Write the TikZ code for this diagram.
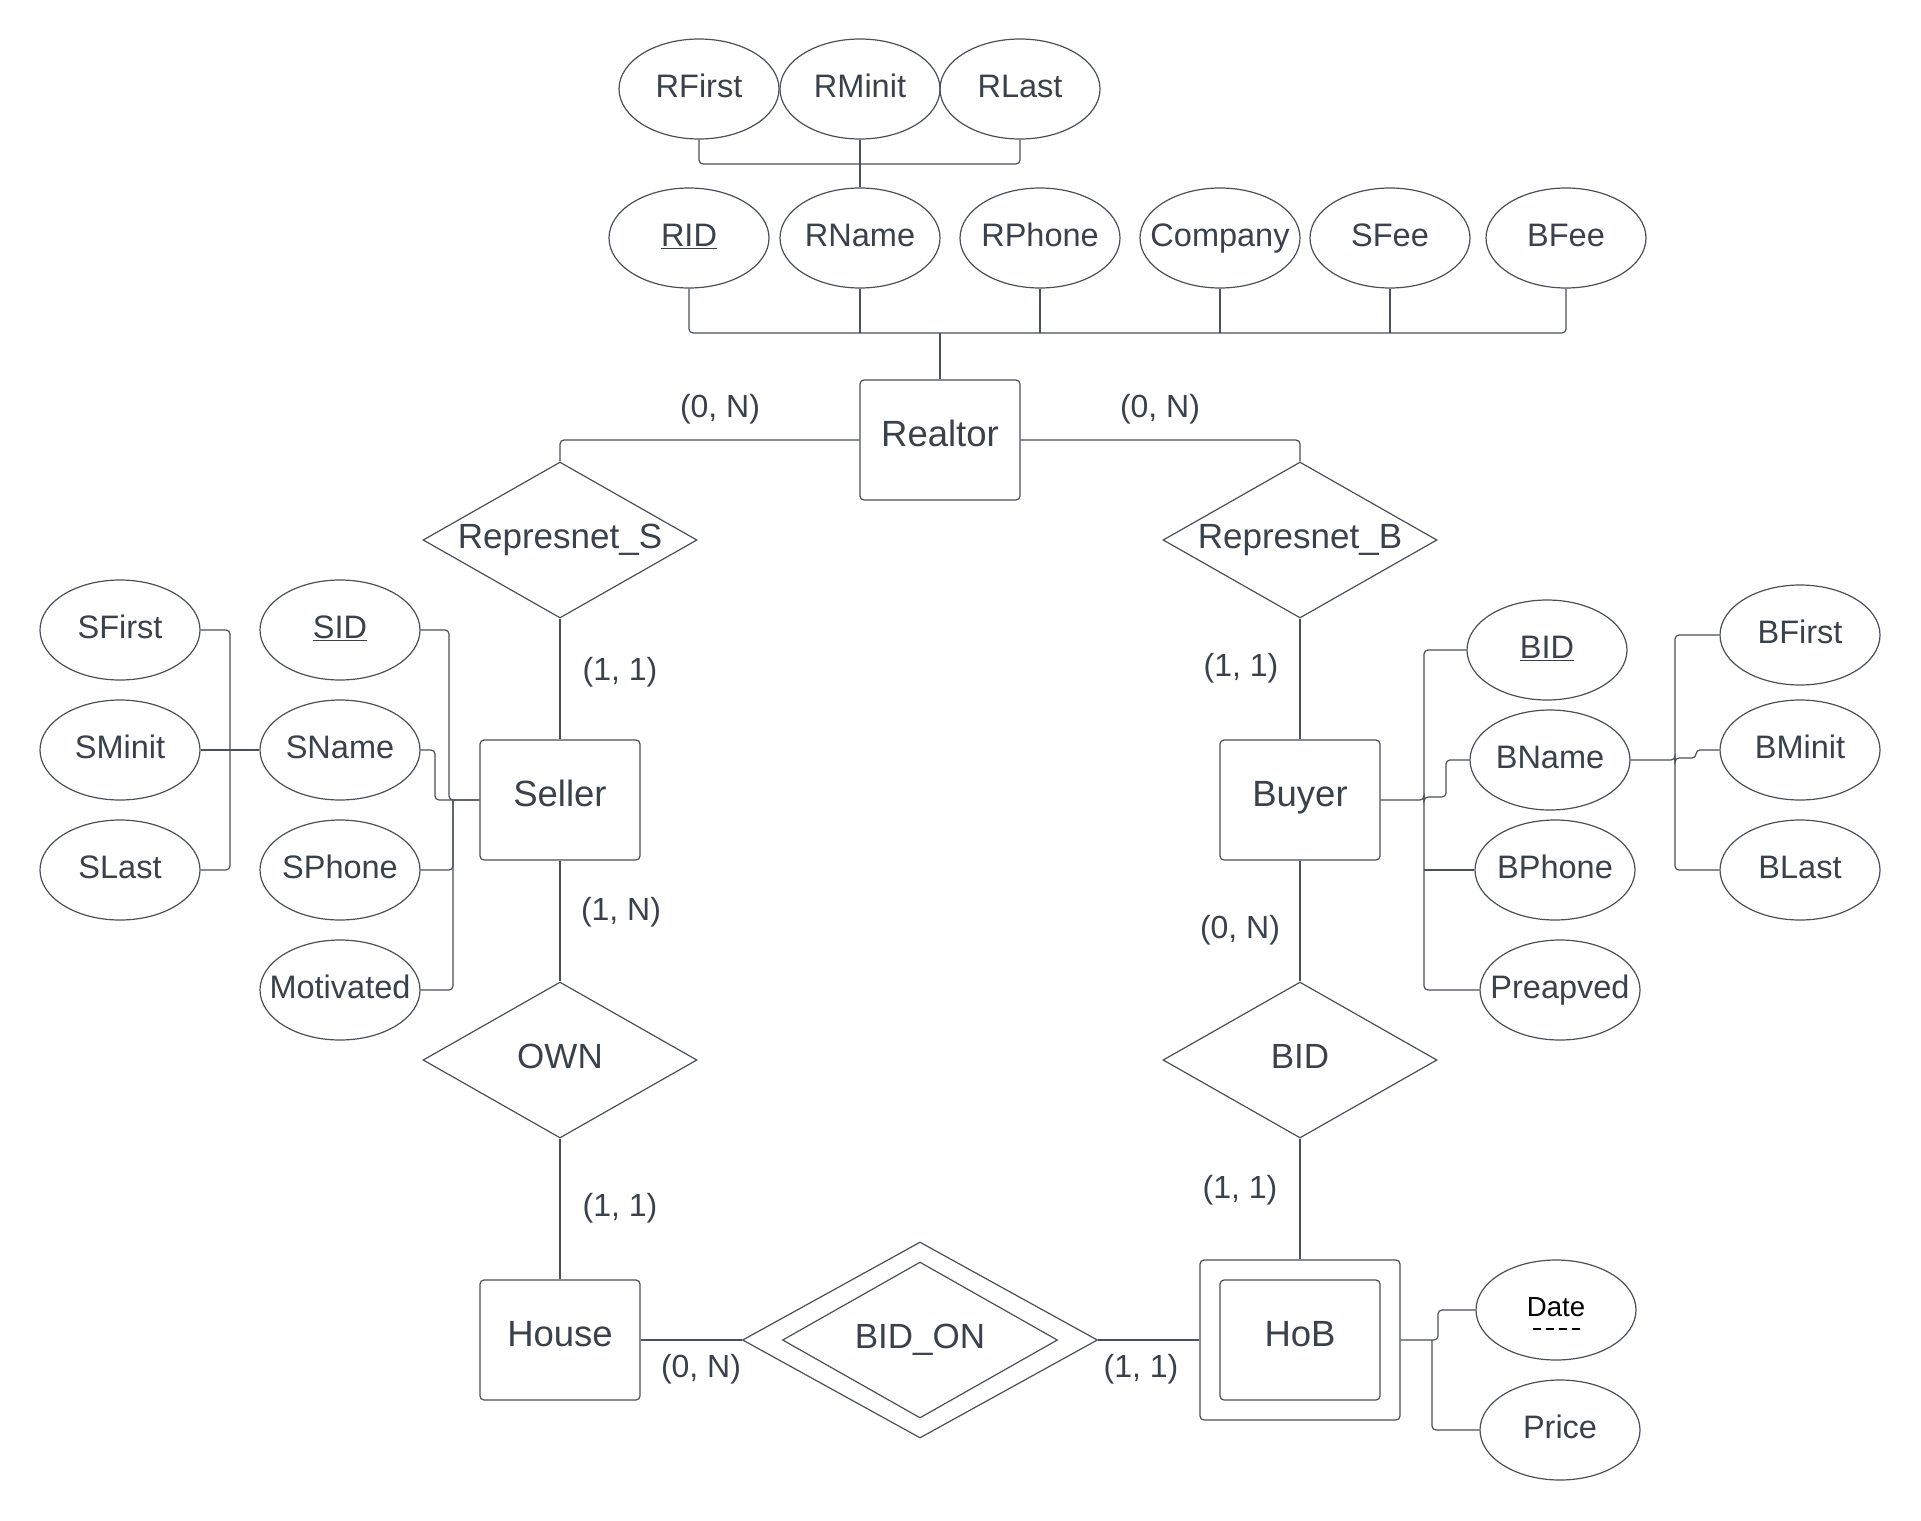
\documentclass[tikz,border=0pt]{standalone}
\usepackage{fontspec}
\setmainfont{Liberation Sans}
\usetikzlibrary{shapes.geometric,calc}
\definecolor{ink}{HTML}{3A414A}
\definecolor{wire}{HTML}{4A5058}
\begin{document}
\begin{tikzpicture}[x=1pt,y=-1pt,
  attr/.style={ellipse, draw=wire, line width=1.2pt, minimum width=160pt, minimum height=100pt, inner sep=0pt,
    font=\fontsize{32.5}{39}\selectfont, text=ink, text height=24pt, text depth=7pt},
  ent/.style={rectangle, rounded corners=4pt, draw=wire, line width=1.2pt, minimum width=160pt, minimum height=120pt,
    inner sep=0pt, font=\fontsize{36.5}{44}\selectfont, text=ink, text height=27pt, text depth=14pt},
  rel/.style={diamond, aspect=1.75, draw=wire, line width=1.2pt, minimum width=274pt, minimum height=156pt, inner sep=0pt,
    font=\fontsize{35}{42}\selectfont, text=ink, text height=26pt, text depth=10pt},
  card/.style={font=\fontsize{32}{38}\selectfont, text=ink, inner sep=0pt},
  conn/.style={draw=wire, line width=1.2pt, rounded corners=4pt}]
\fill[white] (0,0) rectangle (1921,1520);
\useasboundingbox (0,0) rectangle (1921,1520);

% Realtor and its attributes
\node[ent] (realtor) at (940,440) {Realtor};
\node[attr] (rfirst) at (699,89) {\makebox[0pt]{RFirst}};
\node[attr] (rminit) at (860,89) {\makebox[0pt]{RMinit}};
\node[attr] (rlast) at (1020,89) {\makebox[0pt]{RLast}};
\node[attr] (rid) at (689,238) {\makebox[0pt]{\underline{RID}}};
\node[attr] (rname) at (860,238) {\makebox[0pt]{RName}};
\node[attr] (rphone) at (1040,238) {\makebox[0pt]{RPhone}};
\node[attr] (company) at (1220,238) {\makebox[0pt]{Company}};
\node[attr] (sfee) at (1390,238) {\makebox[0pt]{SFee}};
\node[attr] (bfee) at (1566,238) {\makebox[0pt]{BFee}};

\coordinate (rj) at (860,164);
\draw[conn] (rfirst.south) |- (rj) -| (rlast.south);
\draw[conn] (rminit.south) -- (rname.north);
\coordinate (rbus) at (940,333);
\draw[conn] (rid.south) |- (rbus) -| (bfee.south);
\draw[conn] (rname.south) -- (rname.south |- rbus);
\draw[conn] (rphone.south) -- (rphone.south |- rbus);
\draw[conn] (company.south) -- (company.south |- rbus);
\draw[conn] (sfee.south) -- (sfee.south |- rbus);
\draw[conn] (rbus) -- (realtor.north);

% relationships
\node[rel] (reps) at (560,540) {Represnet\_S};
\node[rel] (repb) at (1300,540) {Represnet\_B};
\node[rel] (own) at (560,1060) {OWN};
\node[rel] (bidr) at (1300,1060) {BID};
\node[rel, aspect=1.81, minimum width=355pt, minimum height=196pt] (bidon) at (920,1340) {};
\node[rel, minimum width=275pt, minimum height=156pt] (bidonin) at (920,1340) {BID\_ON};

% entities
\node[ent] (seller) at (560,800) {Seller};
\node[ent] (buyer) at (1300,800) {Buyer};
\node[ent] (house) at (560,1340) {House};
\node[ent, minimum width=200pt, minimum height=160pt] (hob) at (1300,1340) {};
\node[ent] (hobin) at (1300,1340) {HoB};

\draw[conn] (realtor.west) -| (reps.north);
\draw[conn] (realtor.east) -| (repb.north);
\draw[conn] (reps.south) -- (seller.north);
\draw[conn] (seller.south) -- (own.north);
\draw[conn] (own.south) -- (house.north);
\draw[conn] (repb.south) -- (buyer.north);
\draw[conn] (buyer.south) -- (bidr.north);
\draw[conn] (bidr.south) -- (hob.north);
\draw[conn] (house.east) -- (bidon.west);
\draw[conn] (bidon.east) -- (hob.west);

% cardinalities
\node[card] (c1) at (720,409) {(0, N)};
\node[card] (c2) at (1160,409) {(0, N)};
\node[card] (c3) at (620,672) {(1, 1)};
\node[card] (c4) at (621,912) {(1, N)};
\node[card] (c5) at (620,1208) {(1, 1)};
\node[card] (c6) at (1241,668) {(1, 1)};
\node[card] (c7) at (1240,930) {(0, N)};
\node[card] (c8) at (1240,1190) {(1, 1)};
\node[card] (c9) at (701,1369) {(0, N)};
\node[card] (c10) at (1141,1369) {(1, 1)};

% Seller attributes
\node[attr] (sfirst) at (120,630) {\makebox[0pt]{SFirst}};
\node[attr] (sminit) at (120,750) {\makebox[0pt]{SMinit}};
\node[attr] (slast) at (120,870) {\makebox[0pt]{SLast}};
\node[attr] (sid) at (340,630) {\makebox[0pt]{\underline{SID}}};
\node[attr] (sname) at (340,750) {\makebox[0pt]{SName}};
\node[attr] (sphone) at (340,870) {\makebox[0pt]{SPhone}};
\node[attr] (motiv) at (340,990) {\makebox[0pt]{Motivated}};

\coordinate (sa) at (230,750);
\draw[conn] (sfirst.east) -| (sa);
\draw[conn] (slast.east) -| (sa);
\draw[conn] (sminit.east) -- (sname.west);
\coordinate (sb1) at (449,800);
\coordinate (sb2) at (435,800);
\coordinate (sb3) at (453,800);
\draw[conn] (sid.east) -| (sb1) -- (seller.west);
\draw[conn] (sname.east) -| (sb2) -- (seller.west);
\draw[conn] (sphone.east) -| (sb3);
\draw[conn] (motiv.east) -| (sb3);

% Buyer attributes
\node[attr] (battr) at (1547,650) {\makebox[0pt]{\underline{BID}}};
\node[attr] (bname) at (1550,760) {\makebox[0pt]{BName}};
\node[attr] (bphone) at (1555,870) {\makebox[0pt]{BPhone}};
\node[attr] (preap) at (1560,990) {\makebox[0pt]{Preapved}};
\node[attr] (bfirst) at (1800,635) {\makebox[0pt]{BFirst}};
\node[attr] (bminit) at (1800,750) {\makebox[0pt]{BMinit}};
\node[attr] (blast) at (1800,870) {\makebox[0pt]{BLast}};

\coordinate (bb) at (1424,800);
\coordinate (bn) at (1446,797);
\draw[conn] (buyer.east) -- (bb) -- (bb |- bn) -- (bn) |- (bname.west);
\draw[conn] (bb) |- (battr.west);
\draw[conn] (bb) |- (preap.west);
\draw[conn] (bb |- bphone.west) -- (bphone.west);
\coordinate (bc) at (1675,760);
\coordinate (bm) at (1696,758);
\draw[conn] (bname.east) -- (bc) -- (bc |- bm) -- (bm) |- (bminit.west);
\draw[conn] (bc) |- (bfirst.west);
\draw[conn] (bc) |- (blast.west);

% HoB attributes
\node[attr] (date) at (1556,1310) {};
\node[font=\fontsize{27.6}{33}\selectfont, text=black, inner sep=0pt] (datet) at (1556,1307) {Date};
\draw[black, line width=1.6pt, dash pattern=on 8pt off 5pt] ($(date.center)+(-23,19)$) -- ($(date.center)+(24,19)$);
\node[attr] (price) at (1560,1430) {\makebox[0pt]{Price}};
\coordinate (hb1) at (1438,1340);
\coordinate (hb2) at (1432,1340);
\draw[conn] (hob.east) -- (hb1) |- (date.west);
\draw[conn] (hb2) |- (price.west);
\end{tikzpicture}
\end{document}
